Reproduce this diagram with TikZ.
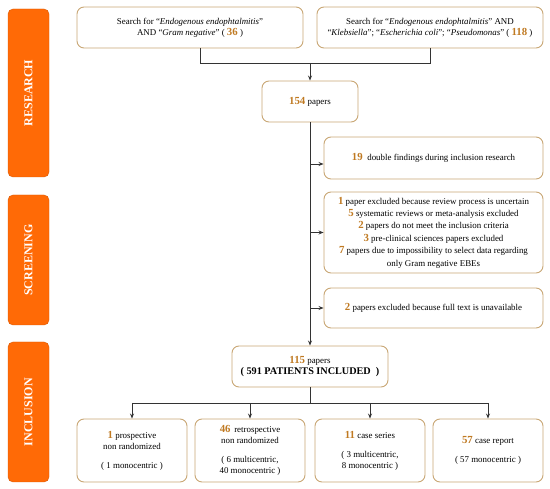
\documentclass[tikz,border=0pt]{standalone}
\usepackage{fontspec}
\setmainfont{Liberation Serif}
\usetikzlibrary{arrows.meta,calc}
\definecolor{barc}{HTML}{FF6A06}
\definecolor{boxc}{HTML}{C9A775}
\definecolor{numc}{HTML}{C07A22}
\definecolor{linec}{HTML}{333333}
\newcommand\nb[1]{{\fontsize{10.8}{11}\selectfont\bfseries\color{numc}#1}}
\begin{document}
\begin{tikzpicture}[x=1pt,y=-1pt,
  phase/.style={rectangle,rounded corners=5pt,fill=barc,draw=barc!85!black,line width=0.4pt,minimum height=41pt,text=white,font=\fontsize{12}{14}\selectfont\bfseries,rotate=90},
  box/.style={rectangle,rounded corners=7pt,draw=boxc,line width=0.9pt,fill=white,align=center,font=\fontsize{8.9}{11}\selectfont,inner sep=2pt},
  conn/.style={draw=linec,line width=0.8pt},
  arr/.style={conn,-{Stealth[length=5pt,width=4pt]}}]
\useasboundingbox (0,0) rectangle (550,489);
% phase bars
\node[phase,minimum width=168pt] (barR) at (28.5,93) {RESEARCH};
\node[phase,minimum width=130pt] (barS) at (28.5,260) {SCREENING};
\node[phase,minimum width=140pt] (barI) at (28.5,412) {INCLUSION};
% boxes
\node[box,minimum width=226pt,minimum height=41pt] (s1) at (190,27.5)
  {Search for ``\textit{Endogenous endophtalmitis}''\\AND ``\textit{Gram negative}'' ( \nb{36} )};
\node[box,minimum width=226pt,minimum height=41pt] (s2) at (430,27.5)
  {Search for ``\textit{Endogenous endophtalmitis}'' AND\\``\textit{Klebsiella}''; ``\textit{Escherichia coli}''; ``\textit{Pseudomonas}'' ( \nb{118} )};
\node[box,minimum width=96pt,minimum height=41pt] (p154) at (310,101.5) {\nb{154} papers};
\node[box,minimum width=219pt,minimum height=42pt] (d19) at (433.5,158) {\nb{19}\; double findings during inclusion research};
\node[box,minimum width=219pt,minimum height=81pt,font=\fontsize{8.9}{12.4}\selectfont] (ex) at (433.5,232.5)
  {\nb{1} paper excluded because review process is uncertain\\
   \nb{5} systematic reviews or meta-analysis excluded\\
   \nb{2} papers do not meet the inclusion criteria\\
   \nb{3} pre-clinical sciences papers excluded\\
   \nb{7} papers due to impossibility to select data regarding\\
   only Gram negative EBEs};
\node[box,minimum width=219pt,minimum height=40pt] (ft) at (433.5,308) {\nb{2} papers excluded because full text is unavailable};
\node[box,minimum width=156pt,minimum height=41pt] (p115) at (310,366.5)
  {\nb{115} papers\\{\fontsize{10.2}{12}\selectfont\bfseries ( 591 PATIENTS INCLUDED\ \ )}};
\node[box,minimum width=110pt,minimum height=63pt] (b1) at (132,450.5)
  {\nb{1} prospective\\non randomized\\[8pt]( 1 monocentric )};
\node[box,minimum width=110pt,minimum height=63pt] (b2) at (250,450.5)
  {\nb{46}\, retrospective\\non randomized\\[8pt]( 6 multicentric,\\40 monocentric )};
\node[box,minimum width=110pt,minimum height=63pt] (b3) at (370,450.5)
  {\nb{11} case series\\[8pt]( 3 multicentric,\\8 monocentric )};
\node[box,minimum width=110pt,minimum height=63pt] (b4) at (488,450.5)
  {\nb{57} case report\\[8pt]( 57 monocentric )};
% connectors
\coordinate (jl) at (200,63);
\coordinate (jr) at (430,63);
\coordinate (j) at (310,63);
\draw[conn] (s1.south -| jl) -- (jl) -- (jr) -- (s2.south);
\draw[arr] (j) -- (p154.north);
\draw[arr] (p154.south) -- (p115.north);
\draw[arr] (p154.south |- 0,164) -- (d19.west |- 0,164);
\draw[arr] (p154.south |- ex.west) -- (ex.west);
\draw[arr] (p154.south |- ft.west) -- (ft.west);
\coordinate (h) at (310,403);
\draw[conn] (p115.south) -- (h);
\draw[conn] (b1.north |- h) -- (b4.north |- h);
\foreach \b in {b1,b2,b3,b4} \draw[arr] (\b.north |- h) -- (\b.north);
\end{tikzpicture}
\end{document}
